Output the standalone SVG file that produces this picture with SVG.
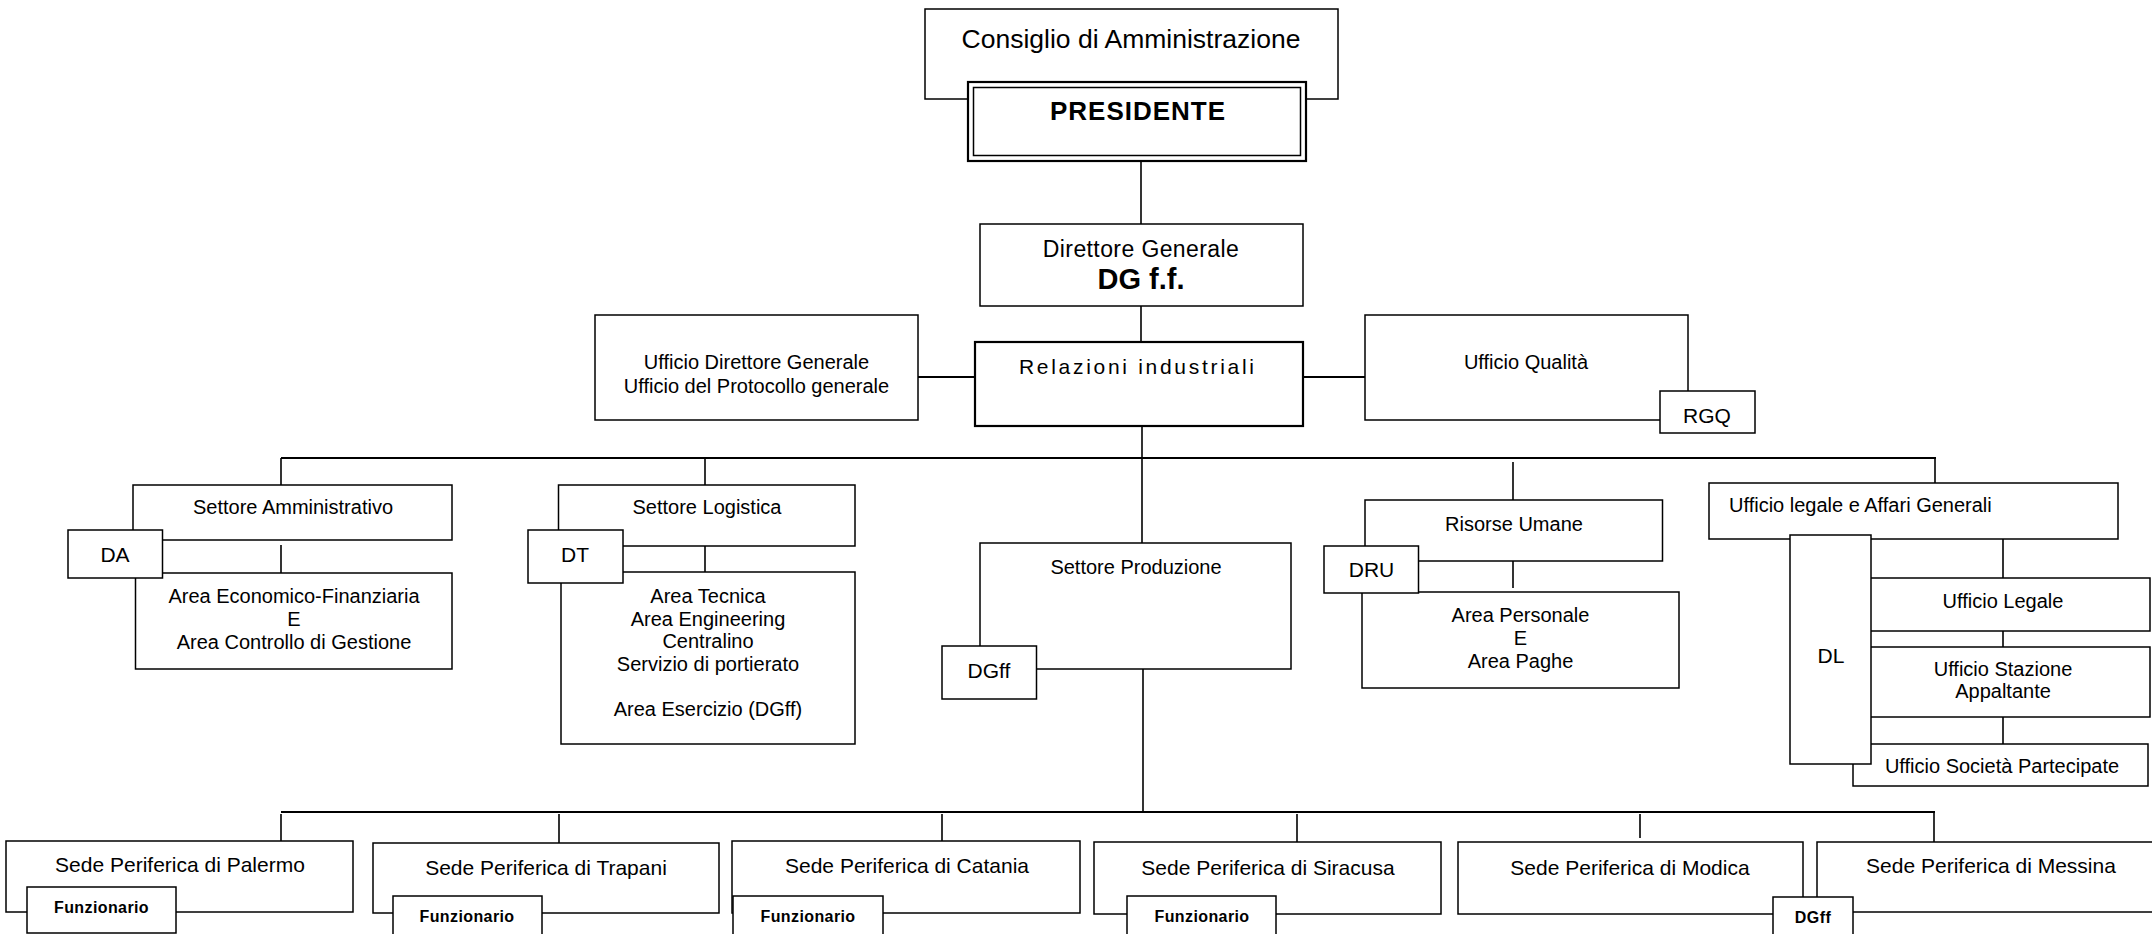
<svg xmlns="http://www.w3.org/2000/svg" width="2152" height="934" viewBox="0 0 2152 934">
<style>
rect{fill:#fff;stroke:#000;stroke-width:1.5}
rect.thick{stroke-width:2.2}
text{font-family:"Liberation Sans",Arial,sans-serif;fill:#000;font-size:20px;text-anchor:middle}
.big{font-size:26.5px}
.pres{font-size:26px;font-weight:bold;letter-spacing:1px}
.dg{font-size:23px;letter-spacing:0.4px}
.dgb{font-size:29px;font-weight:bold}
.rel{font-size:21px;letter-spacing:2.7px;text-anchor:start}
.sede{font-size:21px}
.tag{font-size:21px}
.sm{font-size:16px;font-weight:bold;letter-spacing:0.4px}
#connectors line{stroke:#000;stroke-width:1.6}
#connectors line.bus{stroke-width:2.2}
</style>
<g id="connectors">
<line x1="1141" y1="161" x2="1141" y2="224"/>
<line x1="1141" y1="306" x2="1141" y2="342"/>
<line class="bus" x1="918" y1="377" x2="975" y2="377"/>
<line class="bus" x1="1303" y1="377" x2="1365" y2="377"/>
<line x1="1142" y1="426" x2="1142" y2="543"/>
<line class="bus" x1="281" y1="458" x2="1936" y2="458"/>
<line x1="281" y1="458" x2="281" y2="485"/>
<line x1="705" y1="458" x2="705" y2="485"/>
<line x1="1513" y1="462" x2="1513" y2="500"/>
<line x1="1935" y1="458" x2="1935" y2="483"/>
<line x1="281" y1="545" x2="281" y2="573"/>
<line x1="705" y1="546" x2="705" y2="572"/>
<line x1="1513" y1="561" x2="1513" y2="588"/>
<line x1="2003" y1="539" x2="2003" y2="578"/>
<line x1="2003" y1="631" x2="2003" y2="647"/>
<line x1="2003" y1="717" x2="2003" y2="744"/>
<line x1="1143" y1="669" x2="1143" y2="812"/>
<line class="bus" x1="281" y1="812" x2="1935" y2="812"/>
<line x1="281" y1="814" x2="281" y2="841"/>
<line x1="559" y1="814" x2="559" y2="843"/>
<line x1="942" y1="814" x2="942" y2="841"/>
<line x1="1297" y1="814" x2="1297" y2="842"/>
<line x1="1640" y1="814" x2="1640" y2="838"/>
<line x1="1934" y1="812" x2="1934" y2="842"/>
</g>
<g id="consiglio">
<rect x="925" y="9" width="413" height="90"/>
<text class="big" x="1131" y="48">Consiglio di Amministrazione</text>
</g>
<g id="presidente">
<rect class="thick" x="968" y="82" width="338" height="79"/>
<rect x="973.5" y="87.5" width="327" height="68"/>
<text class="pres" x="1138" y="120">PRESIDENTE</text>
</g>
<g id="direttore">
<rect x="980" y="224" width="323" height="82"/>
<text class="dg" x="1141" y="257">Direttore Generale</text>
<text class="dgb" x="1141" y="289">DG f.f.</text>
</g>
<g id="relazioni">
<rect class="thick" x="975" y="342" width="328" height="84"/>
<text class="rel" x="1019" y="374">Relazioni industriali</text>
</g>
<g id="ufficio-dg">
<rect x="595" y="315" width="323" height="105"/>
<text x="756.5" y="369">Ufficio Direttore Generale</text>
<text x="756.5" y="393">Ufficio del Protocollo generale</text>
</g>
<g id="ufficio-qualita">
<rect x="1365" y="315" width="323" height="105"/>
<text x="1526" y="369">Ufficio Qualità</text>
</g>
<g id="rgq">
<rect x="1660" y="391" width="95" height="42"/>
<text class="tag" x="1707" y="423">RGQ</text>
</g>
<g id="settore-amministrativo">
<rect x="133" y="485" width="319" height="55"/>
<text x="293" y="514">Settore Amministrativo</text>
</g>
<g id="area-economico">
<rect x="135.5" y="573" width="316.5" height="96"/>
<text x="294" y="603">Area Economico-Finanziaria</text>
<text x="294" y="626">E</text>
<text x="294" y="649">Area Controllo di Gestione</text>
</g>
<g id="da">
<rect x="68" y="530" width="94.5" height="48"/>
<text class="tag" x="115" y="562">DA</text>
</g>
<g id="settore-logistica">
<rect x="558.5" y="485" width="296.5" height="61"/>
<text x="707" y="514">Settore Logistica</text>
</g>
<g id="area-tecnica">
<rect x="561" y="572" width="294" height="172"/>
<text x="708" y="603">Area Tecnica</text>
<text x="708" y="626">Area Engineering</text>
<text x="708" y="648">Centralino</text>
<text x="708" y="671">Servizio di portierato</text>
<text x="708" y="716">Area Esercizio (DGff)</text>
</g>
<g id="dt">
<rect x="528" y="530" width="95" height="53"/>
<text class="tag" x="575" y="562">DT</text>
</g>
<g id="settore-produzione">
<rect x="980" y="543" width="311" height="126"/>
<text x="1136" y="574">Settore Produzione</text>
</g>
<g id="dgff-produzione">
<rect x="942" y="646" width="94.5" height="53"/>
<text class="tag" x="989" y="678">DGff</text>
</g>
<g id="risorse-umane">
<rect x="1365" y="500" width="297.5" height="61"/>
<text x="1514" y="531">Risorse Umane</text>
</g>
<g id="area-personale">
<rect x="1362" y="592" width="317" height="96"/>
<text x="1520.5" y="622">Area Personale</text>
<text x="1520.5" y="645">E</text>
<text x="1520.5" y="668">Area Paghe</text>
</g>
<g id="dru">
<rect x="1324" y="546" width="94.5" height="47"/>
<text class="tag" x="1371.5" y="577">DRU</text>
</g>
<g id="ufficio-legale-ag">
<rect x="1709" y="483" width="409" height="56"/>
<text x="1729" y="512" style="text-anchor:start">Ufficio legale e Affari Generali</text>
</g>
<g id="ufficio-legale">
<rect x="1860" y="578" width="290" height="53"/>
<text x="2003" y="608">Ufficio Legale</text>
</g>
<g id="ufficio-stazione">
<rect x="1860" y="647" width="290" height="70"/>
<text x="2003" y="676">Ufficio Stazione</text>
<text x="2003" y="698">Appaltante</text>
</g>
<g id="ufficio-societa">
<rect x="1853" y="744" width="295" height="42"/>
<text x="2002" y="773">Ufficio Società Partecipate</text>
</g>
<g id="dl">
<rect x="1790" y="535" width="81" height="229"/>
<text class="tag" x="1831" y="663">DL</text>
</g>
<g id="sede-palermo">
<rect x="6" y="841" width="347" height="71"/>
<text class="sede" x="180" y="872">Sede Periferica di Palermo</text>
<rect x="27" y="887" width="149" height="46"/>
<text class="sm" x="101.5" y="913">Funzionario</text>
</g>
<g id="sede-trapani">
<rect x="373" y="843" width="346" height="70"/>
<text class="sede" x="546" y="875">Sede Periferica di Trapani</text>
<rect x="393" y="896" width="149" height="50"/>
<text class="sm" x="467" y="922">Funzionario</text>
</g>
<g id="sede-catania">
<rect x="732" y="841" width="348" height="72"/>
<text class="sede" x="907" y="873">Sede Periferica di Catania</text>
<rect x="733" y="896" width="150" height="50"/>
<text class="sm" x="808" y="922">Funzionario</text>
</g>
<g id="sede-siracusa">
<rect x="1094" y="842" width="347" height="72"/>
<text class="sede" x="1268" y="875">Sede Periferica di Siracusa</text>
<rect x="1127" y="896" width="149" height="50"/>
<text class="sm" x="1202" y="922">Funzionario</text>
</g>
<g id="sede-modica">
<rect x="1458" y="842" width="345" height="72"/>
<text class="sede" x="1630" y="875">Sede Periferica di Modica</text>
</g>
<g id="sede-messina">
<rect x="1817" y="842" width="350" height="70"/>
<text class="sede" x="1991" y="873">Sede Periferica di Messina</text>
</g>
<g id="dgff-modica">
<rect x="1773" y="897" width="80" height="50"/>
<text class="sm" x="1813" y="923">DGff</text>
</g>
</svg>
